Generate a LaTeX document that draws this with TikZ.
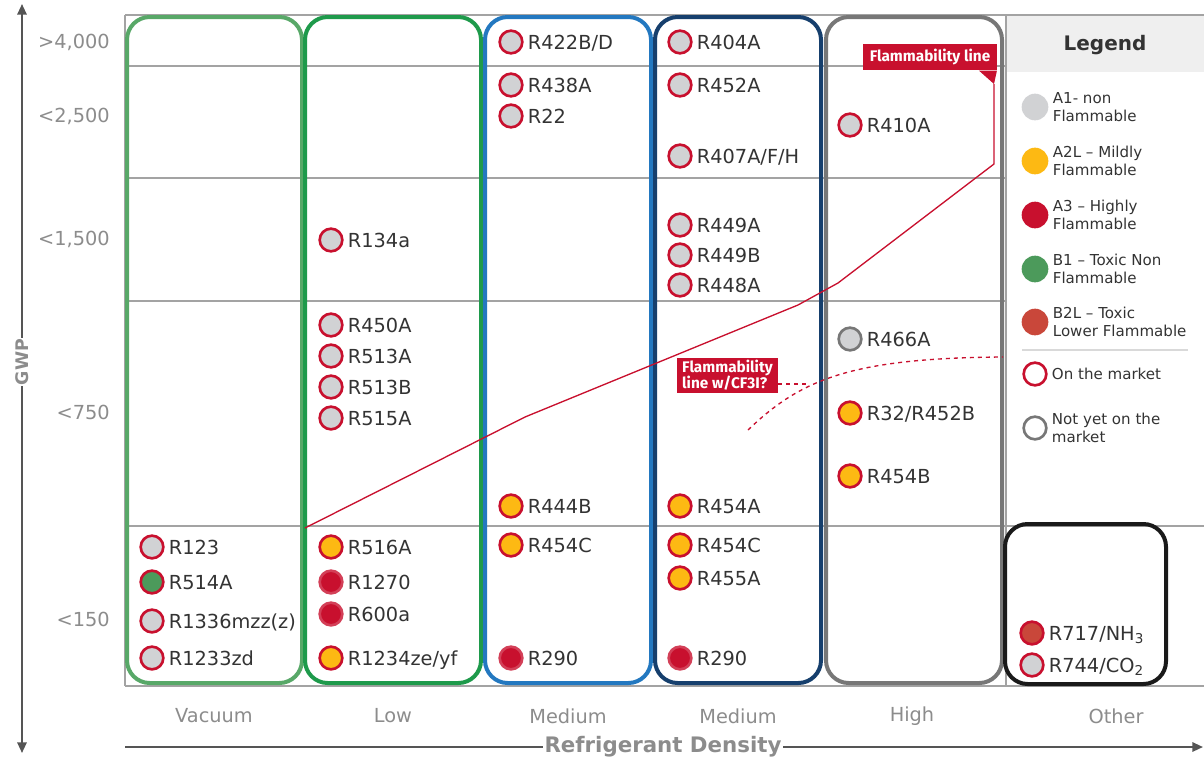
\documentclass[tikz,border=0pt]{standalone}
\usepackage{fontspec}
\setmainfont{DejaVu Sans}
\newfontfamily\tagfont{Fira Sans}
\usetikzlibrary{positioning}
\usetikzlibrary{arrows.meta}
\definecolor{flamred}{HTML}{C8102E}
\definecolor{refgray}{HTML}{D1D2D4}
\definecolor{refyellow}{HTML}{FDB913}
\definecolor{refgreen}{HTML}{4C9A5B}
\definecolor{reforange}{HTML}{C9473A}
\definecolor{vacgreen}{HTML}{58A868}
\definecolor{lowgreen}{HTML}{1E9A4B}
\definecolor{medblue}{HTML}{2378C0}
\definecolor{mednavy}{HTML}{163F6D}
\definecolor{boxgray}{HTML}{777777}
\definecolor{boxblack}{HTML}{1A1A1A}
\definecolor{gridgray}{HTML}{A3A3A3}
\definecolor{legendbg}{HTML}{EFEFEF}
\definecolor{axisgray}{HTML}{8C8C8C}
\definecolor{axisdark}{HTML}{555555}
\definecolor{inkdark}{HTML}{333333}

\begin{document}
\begin{tikzpicture}[x=0.75pt,y=-0.75pt,
    every node/.style={text=inkdark,font=\fontsize{14.5}{16}\selectfont},
    gridline/.style={draw=gridgray,line width=1pt},
    colbox/.style={line width=3pt,rounded corners=17pt},
    reflabel/.style={inner sep=0pt,text height=10.5pt,text depth=0pt,xshift=3pt},
    ref/.style={circle,inner sep=0pt,minimum size=17pt,line width=2pt,draw=flamred},
    aone/.style={ref,fill=refgray},
    atwo/.style={ref,fill=refyellow},
    athree/.style={ref,fill=flamred,draw=flamred!80!white},
    bone/.style={ref,fill=refgreen},
    btwol/.style={ref,fill=reforange},
    notyet/.style={ref,fill=refgray,draw=boxgray},
    gwplabel/.style={anchor=east,text=axisgray,inner sep=0pt,text height=10pt,text depth=0pt},
    densitylabel/.style={text=axisgray},
    legendtext/.style={align=left,inner sep=0pt,xshift=3pt,font=\fontsize{11.3}{13}\selectfont},
    legenddot/.style={circle,inner sep=0pt,minimum size=20pt},
    tag/.style={fill=flamred,text=white,font=\tagfont\bfseries\fontsize{11.5}{12}\selectfont,inner sep=0pt},
    flamline/.style={draw=flamred,line width=1pt},
    axis/.style={draw=axisdark,line width=1.5pt}]
    \useasboundingbox (0,0) rectangle (1204,758);
    \fill[legendbg] (1006,15) rectangle (1204,72);
    \draw[gridline] (125,15) -- (1204,15);
    \draw[gridline] (125,66) -- (1006,66);
    \draw[gridline] (125,178) -- (1006,178);
    \draw[gridline] (125,301) -- (1006,301);
    \draw[gridline] (125,526) -- (1204,526);
    \draw[gridline] (125,686) -- (1204,686);
    \draw[gridline] (125,15) -- (125,686);
    \draw[gridline] (1006,15) -- (1006,686);

    \draw[colbox,draw=vacgreen] (127,17) rectangle (302,683);
    \draw[colbox,draw=lowgreen] (305,17) rectangle (481,683);
    \draw[colbox,draw=medblue] (485,17) rectangle (651,683);
    \draw[colbox,draw=mednavy] (655,17) rectangle (821,683);
    \draw[colbox,draw=boxgray] (826,17) rectangle (1002,683);
    \draw[colbox,draw=boxblack] (1005,524) rectangle (1166,684);

    \node[gwplabel] (g4000) at (110,42) {>4,000};
    \node[gwplabel] (g2500) at (110,116) {<2,500};
    \node[gwplabel] (g1500) at (110,239) {<1,500};
    \node[gwplabel] (g750) at (110,413) {<750};
    \node[gwplabel] (g150) at (110,620) {<150};

    \node[densitylabel] (vacuum) at (214,716) {Vacuum};
    \node[densitylabel] (low) at (393,716) {Low};
    \node[densitylabel] (medium) at (568,716) {Medium};
    \node[densitylabel] (mediumb) at (738,716) {Medium};
    \node[densitylabel] (high) at (912,716) {High};
    \node[densitylabel] (other) at (1116,716) {Other};

    \coordinate (gtop) at (22,4);
    \coordinate (gbot) at (22,753);
    \draw[axis,{Triangle[length=8pt,width=7pt]}-{Triangle[length=8pt,width=7pt]}] (gtop) -- (gbot);
    \node[fill=white,text=axisgray,rotate=90,inner sep=1pt,font=\bfseries\fontsize{13}{15}\selectfont] (gwp) at (22,362) {GWP};
    \coordinate (dleft) at (125,747);
    \coordinate (dright) at (1203,747);
    \draw[axis,-{Triangle[length=8pt,width=7pt]}] (dleft) -- (dright);
    \node[fill=white,text=axisgray,inner sep=1pt,font=\bfseries\fontsize{16}{18}\selectfont] (density) at (663,747) {Refrigerant Density};

    \node[tag,minimum width=100pt,minimum height=20pt] (flamtag) at (930,57) {Flammability line};
    \coordinate (flamtip) at (994,84);
    \fill[flamred] (flamtag.south east) -- ++(-18,0) -- (flamtip) -- cycle;
    \coordinate (f0) at (305,528);
    \coordinate (f1) at (525,417);
    \coordinate (f2) at (798,305);
    \coordinate (f3) at (838,283);
    \coordinate (f4) at (994,164);
    \draw[flamline] (f0) -- (f1) -- (f2) -- (f3) -- (f4) -- (flamtip);

    \node[tag,align=left,minimum width=76pt,minimum height=26pt] (cftag) at (727.5,375.5) {Flammability\\line w/CF3I?};
    \coordinate (cfstart) at (748,430);
    \coordinate (cfjoin) at (808,384);
    \coordinate (cfend) at (1003,357);
    \draw[flamline,dashed] (cfstart) .. controls (800,380) and (850,358) .. (cfend);
    \draw[flamline,dashed] (cftag.east |- cfjoin) -- (cfjoin);

    \node[aone,label={[reflabel]right:R123}] (r123) at (152,547) {};
    \node[bone,label={[reflabel]right:R514A}] (r514a) at (152,582) {};
    \node[aone,label={[reflabel]right:R1336mzz(z)}] (r1336) at (152,621) {};
    \node[aone,label={[reflabel]right:R1233zd}] (r1233zd) at (152,658) {};

    \node[aone,label={[reflabel]right:R134a}] (r134a) at (331,240) {};
    \node[aone,label={[reflabel]right:R450A}] (r450a) at (331,325) {};
    \node[aone,label={[reflabel]right:R513A}] (r513a) at (331,356) {};
    \node[aone,label={[reflabel]right:R513B}] (r513b) at (331,387) {};
    \node[aone,label={[reflabel]right:R515A}] (r515a) at (331,418) {};
    \node[atwo,label={[reflabel]right:R516A}] (r516a) at (331,547) {};
    \node[athree,label={[reflabel]right:R1270}] (r1270) at (331,582) {};
    \node[athree,label={[reflabel]right:R600a}] (r600a) at (331,614) {};
    \node[atwo,label={[reflabel]right:R1234ze/yf}] (r1234) at (331,658) {};

    \node[aone,label={[reflabel]right:R422B/D}] (r422) at (511,42) {};
    \node[aone,label={[reflabel]right:R438A}] (r438a) at (511,85) {};
    \node[aone,label={[reflabel]right:R22}] (r22) at (511,116) {};
    \node[atwo,label={[reflabel]right:R444B}] (r444b) at (511,506) {};
    \node[atwo,label={[reflabel]right:R454C}] (r454c) at (511,545) {};
    \node[athree,label={[reflabel]right:R290}] (r290) at (511,658) {};

    \node[aone,label={[reflabel]right:R404A}] (r404a) at (680,42) {};
    \node[aone,label={[reflabel]right:R452A}] (r452a) at (680,85) {};
    \node[aone,label={[reflabel]right:R407A/F/H}] (r407) at (680,156) {};
    \node[aone,label={[reflabel]right:R449A}] (r449a) at (680,225) {};
    \node[aone,label={[reflabel]right:R449B}] (r449b) at (680,255) {};
    \node[aone,label={[reflabel]right:R448A}] (r448a) at (680,285) {};
    \node[atwo,label={[reflabel]right:R454A}] (r454a) at (680,506) {};
    \node[atwo,label={[reflabel]right:R454C}] (r454cb) at (680,545) {};
    \node[atwo,label={[reflabel]right:R455A}] (r455a) at (680,578) {};
    \node[athree,label={[reflabel]right:R290}] (r290b) at (680,658) {};

    \node[aone,label={[reflabel]right:R410A}] (r410a) at (850,125) {};
    \node[notyet,label={[reflabel]right:R466A}] (r466a) at (850,339) {};
    \node[atwo,label={[reflabel]right:R32/R452B}] (r32) at (850,413) {};
    \node[atwo,label={[reflabel]right:R454B}] (r454b) at (850,476) {};

    \node[btwol,label={[reflabel]right:R717/NH\textsubscript{3}}] (r717) at (1032,633) {};
    \node[aone,label={[reflabel]right:R744/CO\textsubscript{2}}] (r744) at (1032,665) {};

    \node[font=\bfseries\fontsize{15}{18}\selectfont] (legend) at (1105,45) {Legend};
    \node[legenddot,fill=refgray,label={[legendtext]right:{A1- non\\Flammable}}] (lga1) at (1035,107) {};
    \node[legenddot,fill=refyellow,label={[legendtext]right:{A2L -- Mildly\\Flammable}}] (lga2l) at (1035,161) {};
    \node[legenddot,fill=flamred,label={[legendtext]right:{A3 -- Highly\\Flammable}}] (lga3) at (1035,215) {};
    \node[legenddot,fill=refgreen,label={[legendtext]right:{B1 -- Toxic Non\\Flammable}}] (lgb1) at (1035,269) {};
    \node[legenddot,fill=reforange,label={[legendtext]right:{B2L -- Toxic\\Lower Flammable}}] (lgb2l) at (1035,322) {};
    \draw[draw=legendbg!80!gray,line width=1.2pt] (1022,350) -- (1188,350);
    \node[ref,fill=white,minimum size=17pt,label={[legendtext]right:On the market}] (lgon) at (1035,374) {};
    \node[ref,fill=white,draw=boxgray,minimum size=17pt,label={[legendtext]right:{Not yet on the\\market}}] (lgnot) at (1035,428) {};
\end{tikzpicture}
\end{document}
